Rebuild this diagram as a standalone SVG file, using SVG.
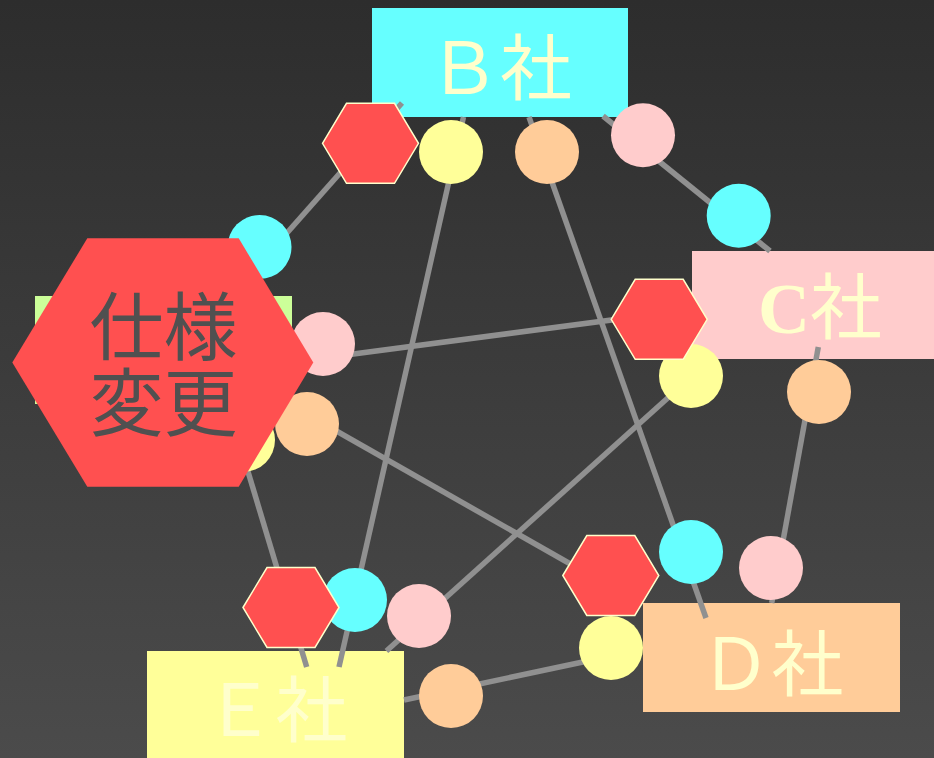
<svg xmlns="http://www.w3.org/2000/svg" xmlns:xlink="http://www.w3.org/1999/xlink" width="934" height="758" viewBox="0 0 934 758">
  <defs>
    <linearGradient id="bg" x1="0" y1="0" x2="0" y2="1">
      <stop offset="0" stop-color="#2d2d2d"/>
      <stop offset="1" stop-color="#4b4b4b"/>
    </linearGradient>
    <polygon id="hex" points="-48,0 -24,-40 24,-40 48,0 24,40 -24,40"/>
    <style>
      .lbl { font-family: "Liberation Serif", "Noto Sans CJK JP", serif; font-size: 72px; fill: #ffffcc; text-anchor: middle; }
      .big { font-family: "Liberation Serif", "Noto Sans CJK JP", serif; font-size: 74px; fill: #505050; text-anchor: middle; }
      .edge { stroke: #909090; stroke-width: 5.5; fill: none; }
      .hx { fill: #ff5050; stroke: #ffffcc; stroke-width: 1.5; }
      .cy { fill: #66ffff; }
      .ye { fill: #ffff99; }
      .pk { fill: #ffcccc; }
      .or { fill: #ffcc99; }
      .gr { fill: #ccff99; }
    </style>
  </defs>
  <rect x="0" y="0" width="934" height="758" fill="url(#bg)"/>

  <g id="company-a"><rect class="gr" x="35" y="296" width="257" height="108"/></g>
  <g id="company-b"><rect class="cy" x="372" y="8" width="256" height="109"/><text class="lbl" x="500" y="94">Ｂ社</text></g>
  <g id="company-c"><rect class="pk" x="692" y="251" width="256" height="108"/><text class="lbl" x="820" y="333"><tspan font-weight="bold">C</tspan>社</text></g>
  <g id="company-d"><rect class="or" x="643" y="603" width="257" height="109"/><text class="lbl" x="771.5" y="690">Ｄ社</text></g>
  <g id="company-e"><rect class="ye" x="147" y="651" width="257" height="110"/><text class="lbl" x="275.5" y="736">Ｅ社</text></g>

  <g id="connectors">
    <line class="edge" x1="240" y1="286" x2="402" y2="103"/>
    <line class="edge" x1="323" y1="358" x2="680" y2="311"/>
    <line class="edge" x1="310" y1="416" x2="625" y2="595"/>
    <line class="edge" x1="243" y1="455" x2="306.7" y2="667"/>
    <line class="edge" x1="603" y1="116" x2="770" y2="251"/>
    <line class="edge" x1="529" y1="117" x2="706" y2="618"/>
    <line class="edge" x1="463.5" y1="117" x2="339" y2="667"/>
    <line class="edge" x1="818.3" y1="347" x2="771.7" y2="603"/>
    <line class="edge" x1="386.4" y1="651" x2="700" y2="369"/>
    <line class="edge" x1="404" y1="700" x2="630" y2="652"/>
  </g>

  <g id="ports-a">
    <circle class="cy" cx="259.5" cy="247" r="32"/>
    <circle class="pk" cx="323" cy="344" r="32"/>
    <circle class="or" cx="307" cy="424" r="32"/>
    <circle class="ye" cx="243" cy="440" r="32"/>
  </g>
  <g id="ports-b">
    <circle class="ye" cx="451" cy="152" r="32"/>
    <circle class="or" cx="547" cy="152" r="32"/>
    <circle class="pk" cx="643" cy="135.3" r="32"/>
    <use class="hx" xlink:href="#hex" href="#hex" x="370.5" y="143.3"/>
  </g>
  <g id="ports-c">
    <circle class="cy" cx="738.7" cy="215.7" r="32"/>
    <circle class="ye" cx="691" cy="376" r="32"/>
    <circle class="or" cx="819" cy="392" r="32"/>
    <use class="hx" xlink:href="#hex" href="#hex" x="659.2" y="319.3"/>
  </g>
  <g id="ports-d">
    <circle class="cy" cx="691" cy="552" r="32"/>
    <circle class="pk" cx="771" cy="568" r="32"/>
    <circle class="ye" cx="611" cy="648" r="32"/>
    <use class="hx" xlink:href="#hex" href="#hex" x="610.8" y="575.5"/>
  </g>
  <g id="ports-e">
    <circle class="cy" cx="355" cy="600" r="32"/>
    <circle class="pk" cx="419" cy="616" r="32"/>
    <circle class="or" cx="451" cy="696" r="32"/>
    <use class="hx" xlink:href="#hex" href="#hex" x="291" y="607.5"/>
  </g>

  <g id="spec-change">
    <polygon fill="#ff5050" points="12.3,362.5 87.3,238.3 238.7,238.3 313.3,362.5 238.7,486.7 87.3,486.7"/>
    <text class="big" x="163.5" y="354">仕様</text>
    <text class="big" x="163.5" y="430">変更</text>
  </g>
</svg>
